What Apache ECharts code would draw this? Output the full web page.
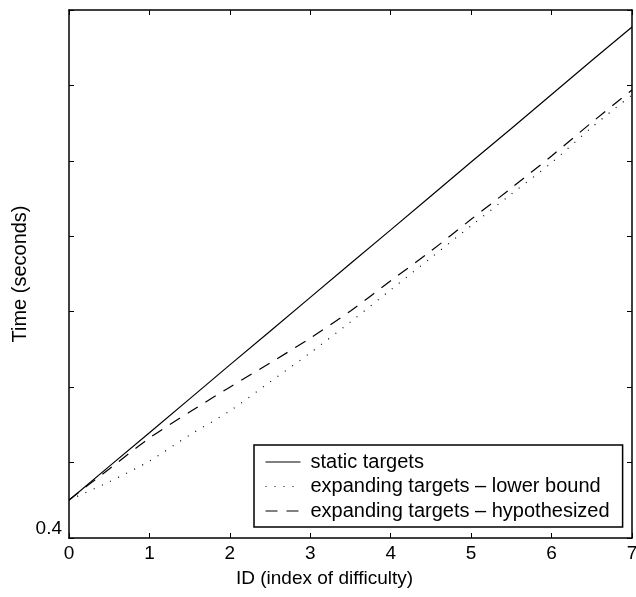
<!DOCTYPE html>
<html>
<head>
<meta charset="utf-8">
<script src="https://cdn.jsdelivr.net/npm/echarts@6/dist/echarts.min.js"></script>
<style>html,body{margin:0;padding:0;background:#fff}#c{width:636px;height:597px}</style>
</head>
<body>
<div id="c"></div>
<script>
// Data
var ids = [0, 0.5, 1, 1.5, 2, 2.5, 3, 3.5, 4, 4.5, 5, 5.5, 6, 6.5, 7];
var staticTargets = [0.500, 0.590, 0.679, 0.769, 0.859, 0.948, 1.038, 1.128, 1.217, 1.307, 1.397, 1.486, 1.576, 1.666, 1.755];
var lowerBound = [0.501, 0.549, 0.604, 0.673, 0.737, 0.814, 0.891, 0.973, 1.058, 1.143, 1.228, 1.312, 1.395, 1.489, 1.575];
var hypothesized = [0.501, 0.583, 0.665, 0.734, 0.800, 0.864, 0.930, 1.002, 1.082, 1.161, 1.245, 1.328, 1.413, 1.502, 1.588];
var xTicks = [0, 1, 2, 3, 4, 5, 6, 7];
var yLabelShown = [0.4];
var seriesNames = ['static targets', 'expanding targets \u2013 lower bound', 'expanding targets \u2013 hypothesized'];

function pairs(ys) { return ids.map(function (x, i) { return [x, ys[i]]; }); }

var FONT = 'Liberation Sans, Arial, Helvetica, sans-serif';
var axisLine = { show: true, onZero: false, lineStyle: { color: '#000', width: 1.5 } };
var tick = { show: true, inside: true, length: 5, lineStyle: { color: '#000', width: 1 } };

var chart = echarts.init(document.getElementById('c'));
chart.setOption({
  animation: false,
  backgroundColor: '#fff',
  grid: { left: 69, right: 4, top: 10, bottom: 59, containLabel: false, outerBoundsMode: 'none' },
  xAxis: [{
    type: 'value', min: 0, max: 7, interval: 1, position: 'bottom',
    axisLine: axisLine, axisTick: tick, splitLine: { show: false },
    axisLabel: { color: '#000', fontSize: 19, fontFamily: FONT, margin: 6,
      formatter: function (v) { return xTicks.indexOf(v) >= 0 ? String(v) : ''; } },
    name: 'ID (index of difficulty)', nameLocation: 'middle', nameGap: 31, nameMoveOverlap: false,
    nameTextStyle: { color: '#000', fontSize: 19, fontFamily: FONT, padding: [0, 52, 0, 0] }
  }, {
    type: 'value', min: 0, max: 7, interval: 1, position: 'top',
    axisLine: axisLine, axisTick: tick, splitLine: { show: false }, axisLabel: { show: false }
  }],
  yAxis: [{
    type: 'value', min: 0.4, max: 1.8, interval: 0.2, position: 'left',
    axisLine: axisLine, axisTick: tick, splitLine: { show: false },
    axisLabel: { color: '#000', fontSize: 19, fontFamily: FONT, margin: 7, verticalAlign: 'bottom',
      formatter: function (v) {
        for (var i = 0; i < yLabelShown.length; i++) if (Math.abs(v - yLabelShown[i]) < 1e-6) return String(yLabelShown[i]);
        return '';
      } },
    name: 'Time (seconds)', nameLocation: 'middle', nameGap: 39, nameRotate: 90, nameMoveOverlap: false,
    nameTextStyle: { color: '#000', fontSize: 20, fontFamily: FONT }
  }, {
    type: 'value', min: 0.4, max: 1.8, interval: 0.2, position: 'right',
    axisLine: axisLine, axisTick: tick, splitLine: { show: false }, axisLabel: { show: false }
  }],
  legend: {
    orient: 'vertical', left: 254, top: 445,
    backgroundColor: '#fff', borderColor: '#000', borderWidth: 1.5, borderRadius: 0,
    padding: [7, 13, 6, 11], itemWidth: 35, itemHeight: 14, itemGap: 4.5,
    itemStyle: { color: 'rgba(0,0,0,0)', borderWidth: 0, opacity: 0 },
    lineStyle: { color: '#000', width: 1, opacity: 1 },
    textStyle: { color: '#000', fontSize: 20, fontFamily: FONT, lineHeight: 20, padding: [0, 0, 0, 5] },
    data: seriesNames
  },
  series: [{
    name: seriesNames[0], type: 'line', data: pairs(staticTargets), symbol: 'none',
    lineStyle: { color: '#000', width: 1.2, type: 'solid' }, itemStyle: { color: '#000' }
  }, {
    name: seriesNames[1], type: 'line', data: pairs(lowerBound), symbol: 'none', smooth: 0.3,
    lineStyle: { color: '#000', width: 1.2, type: [1, 8] }, itemStyle: { color: '#000' }
  }, {
    name: seriesNames[2], type: 'line', data: pairs(hypothesized), symbol: 'none', smooth: 0.3,
    lineStyle: { color: '#000', width: 1.2, type: [12, 9] }, itemStyle: { color: '#000' }
  }]
});
</script>
</body>
</html>
